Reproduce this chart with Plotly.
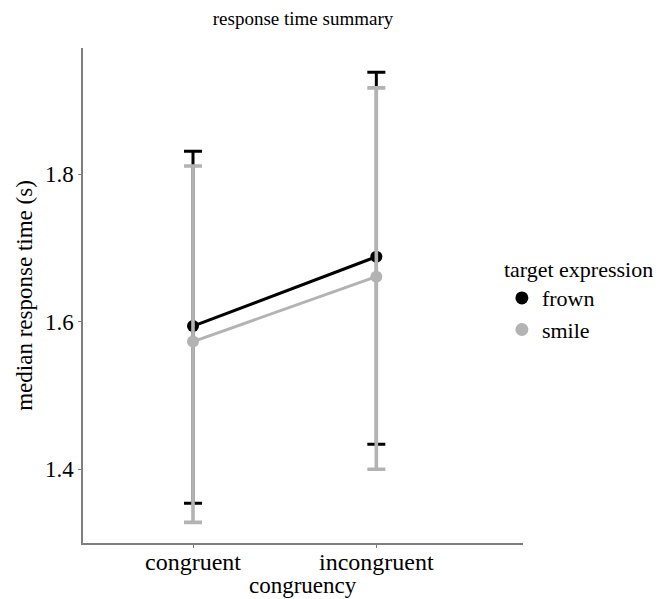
import plotly.graph_objects as go

categories = ["congruent", "incongruent"]
frown_median = [1.594, 1.688]
frown_upper = [1.831, 1.938]
frown_lower = [1.354, 1.434]
smile_median = [1.573, 1.661]
smile_upper = [1.811, 1.917]
smile_lower = [1.328, 1.400]
y_ticks = [1.4, 1.6, 1.8]

FONT = "Liberation Serif"
BLACK = "#000000"
GREY = "#b3b3b3"

W, H = 659, 591
L, R, T, B = 75, 144, 40, 56
PH = H - T - B

def trace(name, med, up, lo, color, thick):
    return go.Scatter(
        x=categories, y=med, name=name, mode="lines+markers",
        line=dict(color=color, width=3),
        marker=dict(color=color, size=12),
        showlegend=False, legendgroup=name,
        error_y=dict(type="data", symmetric=False,
                     array=[u - m for u, m in zip(up, med)],
                     arrayminus=[m - l for m, l in zip(med, lo)],
                     color=color, thickness=thick, width=9),
    )

def legend_key(name, color):
    return go.Scatter(x=[None], y=[None], name=name, mode="markers", legendgroup=name,
                      marker=dict(color=color, size=13), showlegend=True)

fig = go.Figure()
fig.add_trace(trace("frown", frown_median, frown_upper, frown_lower, BLACK, 3))
fig.add_trace(trace("smile", smile_median, smile_upper, smile_lower, GREY, 3.6))
fig.add_trace(legend_key("frown", BLACK))
fig.add_trace(legend_key("smile", GREY))

fig.update_layout(
    width=W, height=H,
    margin=dict(l=L, r=R, t=T, b=B, autoexpand=False),
    paper_bgcolor="white", plot_bgcolor="white",
    font=dict(family=FONT, color="black", size=24),
    title=dict(text="response time summary", x=(L + (W - R - L) / 2) / W,
               xanchor="center", y=1 - 10 / H, yanchor="middle", font=dict(size=19)),
    legend=dict(title=dict(text="target expression", font=dict(size=22)),
                x=0.952, xanchor="left", y=0.595, yanchor="top",
                font=dict(size=22), tracegroupgap=0,
                itemclick=False, bgcolor="rgba(0,0,0,0)"),
    showlegend=True,
    annotations=[dict(text="congruency", xref="paper", yref="paper", x=0.5,
                      y=-(H - 14 - (H - B)) / PH, xanchor="center", yanchor="middle",
                      showarrow=False, font=dict(size=23))],
)
fig.update_xaxes(type="category", range=[-0.6, 1.8], showline=True, linecolor="#7f7f7f",
                 linewidth=1.5, ticks="outside", ticklen=3, tickcolor="#7f7f7f",
                 showgrid=False, zeroline=False, tickfont=dict(size=24), automargin=False,
                 ticklabelstandoff=-7)
fig.update_yaxes(range=[1.30, 1.971], tickvals=y_ticks, ticktext=[f"{v:.1f}" for v in y_ticks],
                 showline=True, linecolor="#7f7f7f", linewidth=1.5, ticks="outside",
                 ticklen=3, tickcolor="#7f7f7f", showgrid=False, zeroline=False,
                 tickfont=dict(size=23), automargin=False,
                 title=dict(text="median response time (s)", font=dict(size=23), standoff=6))

fig.write_html("out.html")
